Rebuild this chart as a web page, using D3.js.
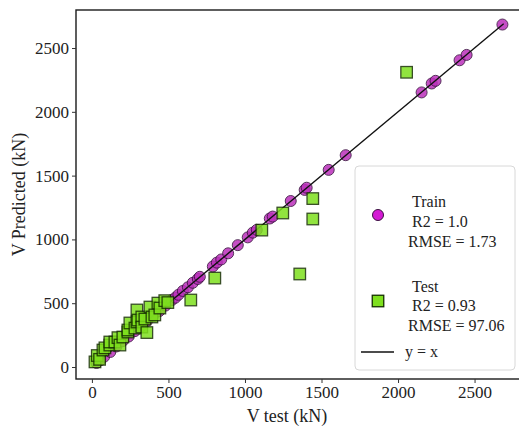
<!DOCTYPE html>
<html>
<head>
<meta charset="utf-8">
<script src="https://cdn.jsdelivr.net/npm/d3@7"></script>
<style>
  html, body { margin: 0; padding: 0; background: #fff; }
  svg { display: block; }
</style>
</head>
<body>
<svg id="chart" width="519" height="430"></svg>
<script>
// Training set: measured shear capacity vs model prediction (kN)
const trainActual = [30, 55, 80, 120, 160, 200, 240, 280, 320, 360, 400, 440, 480, 522, 545, 565, 594, 627, 659, 692, 705, 790, 816, 845, 890, 953, 1018, 1051, 1077, 1162, 1181, 1299, 1390, 1403, 1547, 1658, 2154, 2220, 2245, 2402, 2448, 2682];
const trainPred   = [32, 53, 81, 118, 161, 202, 239, 281, 318, 361, 402, 438, 481, 524, 543, 566, 596, 625, 660, 690, 707, 788, 818, 843, 891, 955, 1016, 1053, 1075, 1164, 1179, 1301, 1388, 1405, 1545, 1660, 2152, 2222, 2243, 2404, 2446, 2684];

// Test set
const testActual = [20, 35, 50, 72, 85, 117, 117, 150, 170, 183, 202, 235, 235, 248, 281, 294, 294, 300, 326, 326, 346, 359, 379, 392, 411, 431, 444, 476, 496, 646, 803, 1110, 1247, 1358, 1443, 1443, 2056];
const testPred   = [40, 90, 60, 133, 150, 172, 196, 196, 230, 172, 235, 274, 290, 345, 305, 447, 353, 368, 392, 313, 376, 270, 470, 392, 408, 501, 462, 520, 505, 525, 697, 1073, 1207, 729, 1320, 1160, 2310];

const xTicks = [0, 500, 1000, 1500, 2000, 2500];
const yTicks = [0, 500, 1000, 1500, 2000, 2500];
const lineRange = [0, 2690];

const legendTrain = ["Train", " R2 = 1.0", "RMSE = 1.73"];
const legendTest  = ["Test", " R2 = 0.93", "RMSE = 97.06"];
const legendLine  = "y = x";

const FONT = "Liberation Serif";
const svg = d3.select("#chart");

const plotLeft = 76, plotRight = 524, plotTop = 10, plotBottom = 379;
const x = d3.scaleLinear().domain([-104, 2823]).range([plotLeft, plotRight]);
const y = d3.scaleLinear().domain([-94, 2798]).range([plotBottom, plotTop]);

const trainFill = "#bb30bb", trainStroke = "#3a1040";
const testFill = "#7ee01e", testStroke = "#163000";

// frame
svg.append("rect")
  .attr("x", plotLeft).attr("y", plotTop)
  .attr("width", plotRight - plotLeft).attr("height", plotBottom - plotTop)
  .attr("fill", "none").attr("stroke", "#1a1a1a").attr("stroke-width", 1.4);

// axes
const xAxis = d3.axisBottom(x).tickValues(xTicks).tickSize(4).tickPadding(3).tickFormat(d3.format("d"));
const yAxis = d3.axisLeft(y).tickValues(yTicks).tickSize(4).tickPadding(3).tickFormat(d3.format("d"));

const gx = svg.append("g").attr("transform", `translate(0,${plotBottom})`).call(xAxis);
const gy = svg.append("g").attr("transform", `translate(${plotLeft},0)`).call(yAxis);
[gx, gy].forEach(g => {
  g.attr("font-family", FONT).attr("font-size", 17);
  g.select(".domain").remove();
  g.selectAll(".tick line").attr("stroke", "#333").attr("stroke-width", 1);
  g.selectAll(".tick text").attr("fill", "#222");
});

// axis titles
svg.append("text")
  .attr("x", 287).attr("y", 422)
  .attr("font-family", FONT).attr("fill", "#222")
  .attr("text-anchor", "middle").attr("font-size", 18)
  .text("V test (kN)");
svg.append("text")
  .attr("transform", `translate(25,${(plotTop + plotBottom) / 2}) rotate(-90)`)
  .attr("font-family", FONT).attr("fill", "#222")
  .attr("text-anchor", "middle").attr("font-size", 18)
  .text("V Predicted (kN)");

// train points
svg.append("g").selectAll("circle")
  .data(trainActual.map((a, i) => [a, trainPred[i]]))
  .join("circle")
  .attr("cx", d => x(d[0])).attr("cy", d => y(d[1]))
  .attr("r", 5.5)
  .attr("fill", trainFill).attr("stroke", trainStroke).attr("stroke-width", 1)
  .attr("opacity", 0.85);

// reference line y = x
svg.append("line")
  .attr("x1", x(lineRange[0])).attr("y1", y(lineRange[0]))
  .attr("x2", x(lineRange[1])).attr("y2", y(lineRange[1]))
  .attr("stroke", "#111").attr("stroke-width", 1.4);

// test points
const sq = 11.5;
svg.append("g").selectAll("rect")
  .data(testActual.map((a, i) => [a, testPred[i]]))
  .join("rect")
  .attr("x", d => x(d[0]) - sq / 2).attr("y", d => y(d[1]) - sq / 2)
  .attr("width", sq).attr("height", sq)
  .attr("fill", testFill).attr("stroke", testStroke).attr("stroke-width", 1.3)
  .attr("opacity", 0.85);

// legend
const lg = svg.append("g").attr("font-family", FONT).attr("fill", "#222");
lg.append("rect")
  .attr("x", 355).attr("y", 166).attr("width", 160).attr("height", 204)
  .attr("rx", 4).attr("fill", "#fff").attr("fill-opacity", 0.85)
  .attr("stroke", "#d8d8d8").attr("stroke-width", 1);

lg.append("circle").attr("cx", 378).attr("cy", 215).attr("r", 5.5)
  .attr("fill", "#d41ad4").attr("stroke", trainStroke).attr("stroke-width", 1);
lg.append("rect").attr("x", 378 - sq / 2).attr("y", 301 - sq / 2).attr("width", sq).attr("height", sq)
  .attr("fill", testFill).attr("stroke", testStroke).attr("stroke-width", 1.3);
lg.append("line").attr("x1", 361).attr("x2", 394).attr("y1", 352).attr("y2", 352)
  .attr("stroke", "#111").attr("stroke-width", 1.4);

const trainY = [207, 227, 247];
const testY = [292, 311, 331];
const textX = [412, 408, 408];
legendTrain.forEach((t, i) => {
  lg.append("text").attr("x", textX[i]).attr("y", trainY[i]).attr("font-size", 16)
    .style("white-space", "pre").text(t);
});
legendTest.forEach((t, i) => {
  lg.append("text").attr("x", textX[i]).attr("y", testY[i]).attr("font-size", 16)
    .style("white-space", "pre").text(t);
});
lg.append("text").attr("x", 405).attr("y", 357).attr("font-size", 16).text(legendLine);
</script>
</body>
</html>
